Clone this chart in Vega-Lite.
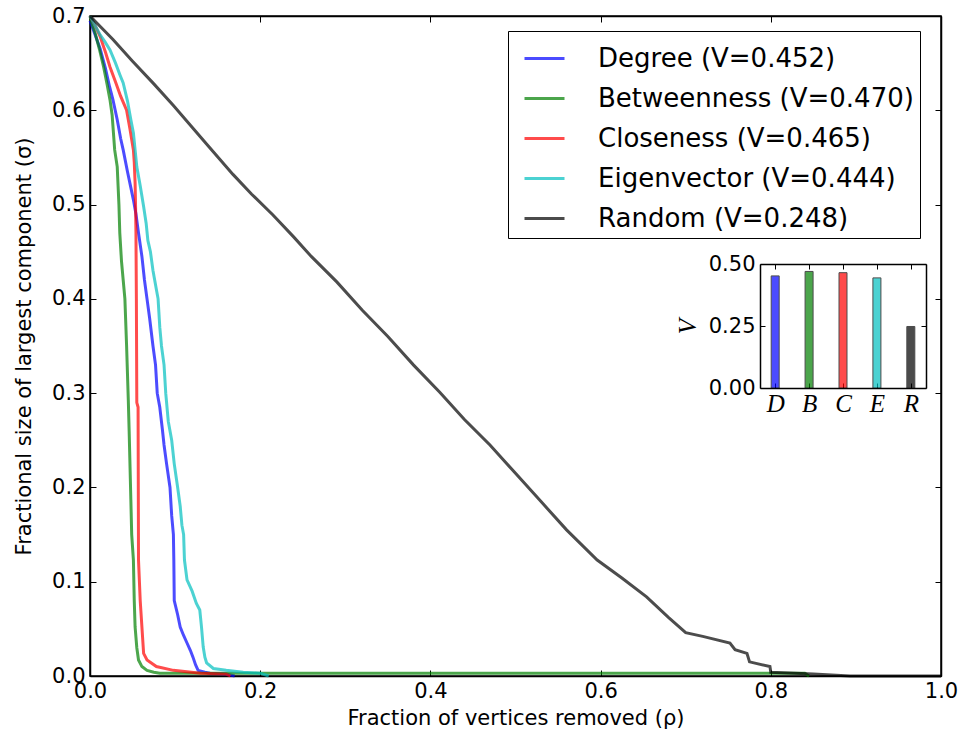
{
  "$schema": "https://vega.github.io/schema/vega-lite/v6.json",
  "width": 851,
  "height": 660,
  "autosize": {"type": "none"},
  "padding": {"left": 90, "top": 16, "right": 25, "bottom": 60},
  "background": "white",
  "config": {
    "view": {"stroke": "black", "strokeWidth": 1.5},
    "font": "DejaVu Sans",
    "axis": {
      "grid": false,
      "domainColor": "black",
      "domainWidth": 1.5,
      "tickColor": "black",
      "tickWidth": 1,
      "labelColor": "black",
      "titleColor": "black",
      "labelFont": "DejaVu Sans",
      "titleFont": "DejaVu Sans",
      "titleFontWeight": "normal",
      "labelFontSize": 21,
      "titleFontSize": 21,
      "labelFlush": false
    }
  },
  "datasets": {
    "curves": [
      {"method": "Degree", "rho": 0, "sigma": 0.695},
      {"method": "Degree", "rho": 0.006, "sigma": 0.68},
      {"method": "Degree", "rho": 0.012, "sigma": 0.665},
      {"method": "Degree", "rho": 0.018, "sigma": 0.645},
      {"method": "Degree", "rho": 0.023, "sigma": 0.625},
      {"method": "Degree", "rho": 0.027, "sigma": 0.611},
      {"method": "Degree", "rho": 0.032, "sigma": 0.59},
      {"method": "Degree", "rho": 0.036, "sigma": 0.57},
      {"method": "Degree", "rho": 0.039, "sigma": 0.558},
      {"method": "Degree", "rho": 0.044, "sigma": 0.535},
      {"method": "Degree", "rho": 0.048, "sigma": 0.518},
      {"method": "Degree", "rho": 0.051, "sigma": 0.505},
      {"method": "Degree", "rho": 0.054, "sigma": 0.49},
      {"method": "Degree", "rho": 0.057, "sigma": 0.47},
      {"method": "Degree", "rho": 0.061, "sigma": 0.445},
      {"method": "Degree", "rho": 0.064, "sigma": 0.42},
      {"method": "Degree", "rho": 0.067, "sigma": 0.4},
      {"method": "Degree", "rho": 0.07, "sigma": 0.38},
      {"method": "Degree", "rho": 0.074, "sigma": 0.35},
      {"method": "Degree", "rho": 0.077, "sigma": 0.33},
      {"method": "Degree", "rho": 0.079, "sigma": 0.3},
      {"method": "Degree", "rho": 0.082, "sigma": 0.285},
      {"method": "Degree", "rho": 0.085, "sigma": 0.262},
      {"method": "Degree", "rho": 0.087, "sigma": 0.245},
      {"method": "Degree", "rho": 0.09, "sigma": 0.225},
      {"method": "Degree", "rho": 0.094, "sigma": 0.2},
      {"method": "Degree", "rho": 0.096, "sigma": 0.17},
      {"method": "Degree", "rho": 0.098, "sigma": 0.15},
      {"method": "Degree", "rho": 0.0985, "sigma": 0.123},
      {"method": "Degree", "rho": 0.099, "sigma": 0.08},
      {"method": "Degree", "rho": 0.103, "sigma": 0.065},
      {"method": "Degree", "rho": 0.106, "sigma": 0.052},
      {"method": "Degree", "rho": 0.11, "sigma": 0.043},
      {"method": "Degree", "rho": 0.114, "sigma": 0.035},
      {"method": "Degree", "rho": 0.118, "sigma": 0.027},
      {"method": "Degree", "rho": 0.121, "sigma": 0.02},
      {"method": "Degree", "rho": 0.124, "sigma": 0.012},
      {"method": "Degree", "rho": 0.127, "sigma": 0.006},
      {"method": "Degree", "rho": 0.135, "sigma": 0.004},
      {"method": "Degree", "rho": 0.141, "sigma": 0.003},
      {"method": "Degree", "rho": 0.16, "sigma": 0.002},
      {"method": "Degree", "rho": 0.17, "sigma": 0.0},
      {"method": "Betweenness", "rho": 0, "sigma": 0.7},
      {"method": "Betweenness", "rho": 0.003, "sigma": 0.69},
      {"method": "Betweenness", "rho": 0.006, "sigma": 0.682},
      {"method": "Betweenness", "rho": 0.011, "sigma": 0.665},
      {"method": "Betweenness", "rho": 0.016, "sigma": 0.646},
      {"method": "Betweenness", "rho": 0.02, "sigma": 0.628},
      {"method": "Betweenness", "rho": 0.0235, "sigma": 0.611},
      {"method": "Betweenness", "rho": 0.026, "sigma": 0.595},
      {"method": "Betweenness", "rho": 0.029, "sigma": 0.558},
      {"method": "Betweenness", "rho": 0.032, "sigma": 0.54},
      {"method": "Betweenness", "rho": 0.033, "sigma": 0.52},
      {"method": "Betweenness", "rho": 0.034, "sigma": 0.5},
      {"method": "Betweenness", "rho": 0.035, "sigma": 0.47},
      {"method": "Betweenness", "rho": 0.037, "sigma": 0.44},
      {"method": "Betweenness", "rho": 0.039, "sigma": 0.42},
      {"method": "Betweenness", "rho": 0.041, "sigma": 0.4},
      {"method": "Betweenness", "rho": 0.043, "sigma": 0.35},
      {"method": "Betweenness", "rho": 0.045, "sigma": 0.293},
      {"method": "Betweenness", "rho": 0.046, "sigma": 0.26},
      {"method": "Betweenness", "rho": 0.048, "sigma": 0.187},
      {"method": "Betweenness", "rho": 0.049, "sigma": 0.15},
      {"method": "Betweenness", "rho": 0.051, "sigma": 0.123},
      {"method": "Betweenness", "rho": 0.052, "sigma": 0.08},
      {"method": "Betweenness", "rho": 0.053, "sigma": 0.052},
      {"method": "Betweenness", "rho": 0.055, "sigma": 0.03},
      {"method": "Betweenness", "rho": 0.057, "sigma": 0.017},
      {"method": "Betweenness", "rho": 0.061, "sigma": 0.01},
      {"method": "Betweenness", "rho": 0.067, "sigma": 0.006},
      {"method": "Betweenness", "rho": 0.075, "sigma": 0.004},
      {"method": "Betweenness", "rho": 0.082, "sigma": 0.003},
      {"method": "Betweenness", "rho": 0.84, "sigma": 0.003},
      {"method": "Betweenness", "rho": 0.845, "sigma": 0.0},
      {"method": "Closeness", "rho": 0, "sigma": 0.7},
      {"method": "Closeness", "rho": 0.006, "sigma": 0.69},
      {"method": "Closeness", "rho": 0.012, "sigma": 0.678},
      {"method": "Closeness", "rho": 0.018, "sigma": 0.662},
      {"method": "Closeness", "rho": 0.0235, "sigma": 0.646},
      {"method": "Closeness", "rho": 0.03, "sigma": 0.63},
      {"method": "Closeness", "rho": 0.036, "sigma": 0.615},
      {"method": "Closeness", "rho": 0.043, "sigma": 0.6},
      {"method": "Closeness", "rho": 0.047, "sigma": 0.58},
      {"method": "Closeness", "rho": 0.051, "sigma": 0.558},
      {"method": "Closeness", "rho": 0.052, "sigma": 0.545},
      {"method": "Closeness", "rho": 0.053, "sigma": 0.523},
      {"method": "Closeness", "rho": 0.0535, "sigma": 0.5},
      {"method": "Closeness", "rho": 0.054, "sigma": 0.47},
      {"method": "Closeness", "rho": 0.0545, "sigma": 0.4},
      {"method": "Closeness", "rho": 0.055, "sigma": 0.29},
      {"method": "Closeness", "rho": 0.0565, "sigma": 0.285},
      {"method": "Closeness", "rho": 0.057, "sigma": 0.123},
      {"method": "Closeness", "rho": 0.059, "sigma": 0.08},
      {"method": "Closeness", "rho": 0.063, "sigma": 0.024},
      {"method": "Closeness", "rho": 0.067, "sigma": 0.017},
      {"method": "Closeness", "rho": 0.078, "sigma": 0.01},
      {"method": "Closeness", "rho": 0.098, "sigma": 0.006},
      {"method": "Closeness", "rho": 0.13, "sigma": 0.003},
      {"method": "Closeness", "rho": 0.16, "sigma": 0.002},
      {"method": "Closeness", "rho": 0.165, "sigma": 0.0},
      {"method": "Eigenvector", "rho": 0, "sigma": 0.7},
      {"method": "Eigenvector", "rho": 0.006, "sigma": 0.69},
      {"method": "Eigenvector", "rho": 0.012, "sigma": 0.68},
      {"method": "Eigenvector", "rho": 0.018, "sigma": 0.672},
      {"method": "Eigenvector", "rho": 0.0235, "sigma": 0.664},
      {"method": "Eigenvector", "rho": 0.03, "sigma": 0.65},
      {"method": "Eigenvector", "rho": 0.035, "sigma": 0.638},
      {"method": "Eigenvector", "rho": 0.039, "sigma": 0.629},
      {"method": "Eigenvector", "rho": 0.044, "sigma": 0.61},
      {"method": "Eigenvector", "rho": 0.048, "sigma": 0.59},
      {"method": "Eigenvector", "rho": 0.051, "sigma": 0.576},
      {"method": "Eigenvector", "rho": 0.053, "sigma": 0.558},
      {"method": "Eigenvector", "rho": 0.055, "sigma": 0.54},
      {"method": "Eigenvector", "rho": 0.059, "sigma": 0.52},
      {"method": "Eigenvector", "rho": 0.063, "sigma": 0.498},
      {"method": "Eigenvector", "rho": 0.066, "sigma": 0.48},
      {"method": "Eigenvector", "rho": 0.068, "sigma": 0.462},
      {"method": "Eigenvector", "rho": 0.071, "sigma": 0.45},
      {"method": "Eigenvector", "rho": 0.074, "sigma": 0.43},
      {"method": "Eigenvector", "rho": 0.076, "sigma": 0.42},
      {"method": "Eigenvector", "rho": 0.078, "sigma": 0.41},
      {"method": "Eigenvector", "rho": 0.08, "sigma": 0.4},
      {"method": "Eigenvector", "rho": 0.082, "sigma": 0.37},
      {"method": "Eigenvector", "rho": 0.084, "sigma": 0.35},
      {"method": "Eigenvector", "rho": 0.087, "sigma": 0.33},
      {"method": "Eigenvector", "rho": 0.089, "sigma": 0.3},
      {"method": "Eigenvector", "rho": 0.092, "sigma": 0.27},
      {"method": "Eigenvector", "rho": 0.096, "sigma": 0.25},
      {"method": "Eigenvector", "rho": 0.099, "sigma": 0.225},
      {"method": "Eigenvector", "rho": 0.103, "sigma": 0.2},
      {"method": "Eigenvector", "rho": 0.106, "sigma": 0.18},
      {"method": "Eigenvector", "rho": 0.108, "sigma": 0.16},
      {"method": "Eigenvector", "rho": 0.11, "sigma": 0.15},
      {"method": "Eigenvector", "rho": 0.111, "sigma": 0.123},
      {"method": "Eigenvector", "rho": 0.114, "sigma": 0.102},
      {"method": "Eigenvector", "rho": 0.12, "sigma": 0.09},
      {"method": "Eigenvector", "rho": 0.125, "sigma": 0.077},
      {"method": "Eigenvector", "rho": 0.129, "sigma": 0.07},
      {"method": "Eigenvector", "rho": 0.131, "sigma": 0.052},
      {"method": "Eigenvector", "rho": 0.133, "sigma": 0.031},
      {"method": "Eigenvector", "rho": 0.135, "sigma": 0.02},
      {"method": "Eigenvector", "rho": 0.137, "sigma": 0.014},
      {"method": "Eigenvector", "rho": 0.145, "sigma": 0.008},
      {"method": "Eigenvector", "rho": 0.16, "sigma": 0.006},
      {"method": "Eigenvector", "rho": 0.18, "sigma": 0.004},
      {"method": "Eigenvector", "rho": 0.2, "sigma": 0.003},
      {"method": "Eigenvector", "rho": 0.21, "sigma": 0.0},
      {"method": "Random", "rho": 0, "sigma": 0.7},
      {"method": "Random", "rho": 0.027, "sigma": 0.675},
      {"method": "Random", "rho": 0.05, "sigma": 0.652},
      {"method": "Random", "rho": 0.075, "sigma": 0.628},
      {"method": "Random", "rho": 0.098, "sigma": 0.605},
      {"method": "Random", "rho": 0.12, "sigma": 0.582},
      {"method": "Random", "rho": 0.14, "sigma": 0.561},
      {"method": "Random", "rho": 0.168, "sigma": 0.532},
      {"method": "Random", "rho": 0.19, "sigma": 0.511},
      {"method": "Random", "rho": 0.215, "sigma": 0.489},
      {"method": "Random", "rho": 0.239, "sigma": 0.466},
      {"method": "Random", "rho": 0.26, "sigma": 0.445},
      {"method": "Random", "rho": 0.29, "sigma": 0.418},
      {"method": "Random", "rho": 0.32, "sigma": 0.388},
      {"method": "Random", "rho": 0.35, "sigma": 0.36},
      {"method": "Random", "rho": 0.38, "sigma": 0.33},
      {"method": "Random", "rho": 0.411, "sigma": 0.301},
      {"method": "Random", "rho": 0.44, "sigma": 0.272},
      {"method": "Random", "rho": 0.47, "sigma": 0.245},
      {"method": "Random", "rho": 0.5, "sigma": 0.215},
      {"method": "Random", "rho": 0.53, "sigma": 0.185},
      {"method": "Random", "rho": 0.56, "sigma": 0.155},
      {"method": "Random", "rho": 0.596, "sigma": 0.123},
      {"method": "Random", "rho": 0.625, "sigma": 0.104},
      {"method": "Random", "rho": 0.654, "sigma": 0.084},
      {"method": "Random", "rho": 0.68, "sigma": 0.062},
      {"method": "Random", "rho": 0.7, "sigma": 0.046},
      {"method": "Random", "rho": 0.72, "sigma": 0.042},
      {"method": "Random", "rho": 0.752, "sigma": 0.035},
      {"method": "Random", "rho": 0.758, "sigma": 0.028},
      {"method": "Random", "rho": 0.772, "sigma": 0.024},
      {"method": "Random", "rho": 0.775, "sigma": 0.015},
      {"method": "Random", "rho": 0.799, "sigma": 0.01},
      {"method": "Random", "rho": 0.8, "sigma": 0.004},
      {"method": "Random", "rho": 0.85, "sigma": 0.002},
      {"method": "Random", "rho": 0.893, "sigma": 0.0},
      {"method": "Random", "rho": 1.0, "sigma": 0.0}
    ],
    "bars": [
      {"method": "Degree", "key": "D", "idx": 0, "V": 0.452},
      {"method": "Betweenness", "key": "B", "idx": 1, "V": 0.47},
      {"method": "Closeness", "key": "C", "idx": 2, "V": 0.465},
      {"method": "Eigenvector", "key": "E", "idx": 3, "V": 0.444},
      {"method": "Random", "key": "R", "idx": 4, "V": 0.248}
    ]
  },
  "layer": [
    {
      "layer": [
        {
          "data": {"name": "curves"},
          "mark": {"type": "line", "strokeWidth": 3, "opacity": 0.7},
          "encoding": {
            "x": {
              "field": "rho", "type": "quantitative",
              "scale": {"domain": [0, 1], "nice": false, "zero": false},
              "axis": {
                "orient": "bottom",
                "values": [0, 0.2, 0.4, 0.6, 0.8, 1.0],
                "format": ".1f",
                "tickSize": -6,
                "labelPadding": 10,
                "title": "Fraction of vertices removed (ρ)",
                "titlePadding": 6
              }
            },
            "y": {
              "field": "sigma", "type": "quantitative",
              "scale": {"domain": [0, 0.7], "nice": false, "zero": false},
              "axis": {
                "orient": "left",
                "values": [0, 0.1, 0.2, 0.3, 0.4, 0.5, 0.6, 0.7],
                "format": ".1f",
                "tickSize": -6,
                "labelPadding": 11,
                "title": "Fractional size of largest component (σ)",
                "titlePadding": 17
              }
            },
            "color": {
              "field": "method", "type": "nominal",
              "scale": {
                "domain": ["Degree", "Betweenness", "Closeness", "Eigenvector", "Random"],
                "range": ["#0000ff", "#008000", "#ff0000", "#00bfbf", "#000000"]
              },
              "legend": {
                "orient": "none",
                "legendX": 418,
                "legendY": 15,
                "title": null,
                "symbolType": "stroke",
                "symbolSize": 1600,
                "symbolStrokeWidth": 3,
                "symbolOpacity": 0.7,
                "symbolOffset": 9,
                "labelFont": "DejaVu Sans",
                "labelFontSize": 26,
                "labelColor": "black",
                "labelOffset": 32,
                "rowPadding": 5,
                "padding": 6,
                "strokeColor": "black",
                "fillColor": "white",
                "labelLimit": 500,
                "labelExpr": "datum.label == 'Degree' ? 'Degree (V=0.452)' : datum.label == 'Betweenness' ? 'Betweenness (V=0.470)' : datum.label == 'Closeness' ? 'Closeness (V=0.465)' : datum.label == 'Eigenvector' ? 'Eigenvector (V=0.444)' : 'Random (V=0.248)'"
              }
            }
          }
        },
        {
          "data": {"name": "curves"},
          "mark": {"type": "point", "opacity": 0},
          "encoding": {
            "x": {
              "field": "rho", "type": "quantitative",
              "axis": {"orient": "top", "values": [0, 0.2, 0.4, 0.6, 0.8, 1.0], "labels": false, "tickSize": -6, "title": null}
            },
            "y": {
              "field": "sigma", "type": "quantitative",
              "axis": {"orient": "right", "values": [0, 0.1, 0.2, 0.3, 0.4, 0.5, 0.6, 0.7], "labels": false, "tickSize": -6, "title": null}
            }
          }
        }
      ],
      "resolve": {"axis": {"x": "independent", "y": "independent"}}
    },
    {
      "layer": [
        {
          "data": {"name": "bars"},
          "mark": {"type": "bar", "size": 8, "opacity": 0.7, "stroke": "black", "strokeWidth": 1},
          "encoding": {
            "x": {
              "field": "idx", "type": "quantitative",
              "scale": {"domain": [-0.3, 4.3], "range": [670, 836], "nice": false, "zero": false},
              "axis": {
                "orient": "bottom",
                "offset": -288,
                "values": [0, 1, 2, 3, 4],
                "labelExpr": "['D','B','C','E','R'][datum.value]",
                "labelFont": "Liberation Serif",
                "labelFontStyle": "italic",
                "labelFontSize": 25,
                "tickSize": -5,
                "labelPadding": 8,
                "title": null
              }
            },
            "y": {
              "field": "V", "type": "quantitative",
              "scale": {"domain": [0, 0.5], "range": [372, 248], "nice": false},
              "axis": {
                "orient": "left",
                "offset": -670,
                "values": [0, 0.25, 0.5],
                "format": ".2f",
                "tickSize": -5,
                "labelPadding": 10,
                "title": "V",
                "titleFont": "Liberation Serif",
                "titleFontStyle": "italic",
                "titleFontSize": 25,
                "titlePadding": 8
              }
            },
            "color": {"field": "method", "type": "nominal", "legend": null}
          }
        },
        {
          "data": {"name": "bars"},
          "mark": {"type": "point", "opacity": 0},
          "encoding": {
            "x": {
              "field": "idx", "type": "quantitative",
              "axis": {"orient": "top", "offset": -248, "values": [0, 1, 2, 3, 4], "labels": false, "tickSize": -5, "title": null}
            },
            "y": {
              "field": "V", "type": "quantitative",
              "axis": {"orient": "right", "offset": -15, "values": [0, 0.25, 0.5], "labels": false, "tickSize": -5, "title": null}
            }
          }
        }
      ],
      "resolve": {"axis": {"x": "independent", "y": "independent"}}
    }
  ],
  "resolve": {"scale": {"x": "independent", "y": "independent"}}
}
